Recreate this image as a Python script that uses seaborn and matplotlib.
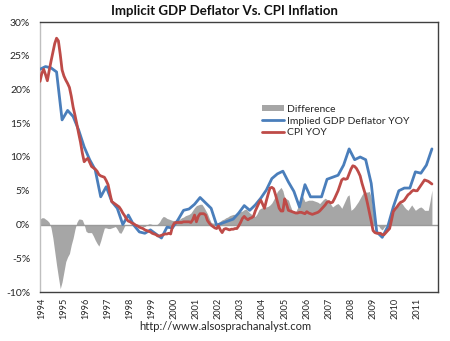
import numpy as np
import pandas as pd
import matplotlib
matplotlib.use("Agg")
import matplotlib.pyplot as plt
import seaborn as sns
from matplotlib.patches import Patch
from matplotlib.lines import Line2D

# ---------------- data ----------------
years = [str(y) for y in range(1994, 2012)]
y_ticks = [-10, -5, 0, 5, 10, 15, 20, 25, 30]

# quarterly, 1994Q1 .. 2011Q4
gdp_deflator_yoy = [
    23.0, 23.4, 23.2, 22.6, 15.5, 16.9, 16.0, 14.0, 11.5, 9.6,
    8.1, 4.1, 5.6, 3.4, 2.4, 0.0, 1.4, -0.1, -1.1, -1.3,
    -0.8, -1.4, -2.0, -0.4, -0.5, 0.7, 2.1, 2.3, 3.0, 4.0,
    3.2, 2.4, -0.1, 0.2, 0.5, 0.8, 1.7, 2.8, 2.1, 2.9,
    3.9, 5.1, 6.8, 7.5, 7.9, 6.3, 4.9, 2.6, 5.9, 4.1,
    4.1, 4.1, 6.7, 7.0, 7.3, 8.8, 11.2, 9.6, 10.0, 9.6,
    6.1, -1.1, -1.9, -0.3, 2.6, 5.0, 5.4, 5.4, 7.8, 7.6,
    8.8, 11.2,
]

# monthly, Jan 1994 .. 2011
cpi_yoy = [
    21.2, 22.4, 23.0, 22.2, 21.3, 22.8, 24.2, 25.5, 26.8, 27.6,
    27.2, 25.2, 22.9, 22.0, 21.4, 20.9, 20.3, 19.0, 17.4, 16.2,
    14.9, 13.5, 12.2, 10.6, 9.3, 9.6, 9.8, 9.2, 8.6, 8.4,
    8.2, 7.9, 7.4, 7.2, 7.1, 7.0, 6.5, 5.9, 4.6, 3.4,
    3.2, 3.0, 2.8, 2.6, 2.2, 1.7, 1.3, 0.8, 0.5, 0.4,
    0.2, 0.1, -0.1, -0.2, -0.4, -0.5, -0.6, -0.8, -0.9, -1.0,
    -1.1, -1.3, -1.4, -1.5, -1.7, -1.7, -1.6, -1.5, -1.4, -1.4,
    -1.3, -1.4, -0.3, 0.2, 0.3, 0.3, 0.3, 0.3, 0.4, 0.4,
    0.4, 0.4, 0.3, 0.7, 1.4, 0.4, 1.2, 1.6, 1.6, 1.6,
    1.4, 0.6, 0.2, -0.1, -0.3, -0.5, -0.6, -0.2, -0.8, -1.2,
    -0.7, -0.6, -0.7, -0.8, -0.7, -0.7, -0.6, -0.6, -0.2, 0.3,
    0.9, 1.2, 0.9, 0.7, 0.9, 1.0, 1.2, 2.0, 2.6, 3.2,
    3.6, 3.0, 2.4, 3.5, 4.5, 5.4, 5.5, 5.3, 4.4, 3.4,
    2.4, 2.0, 2.0, 3.8, 3.0, 2.1, 2.0, 1.9, 1.8, 1.7,
    1.7, 1.8, 1.8, 1.7, 1.6, 1.9, 1.7, 1.6, 1.5, 1.6,
    1.7, 1.8, 2.0, 2.3, 2.6, 2.9, 3.3, 3.4, 3.2, 3.3,
    3.8, 4.4, 5.0, 5.8, 6.6, 6.8, 6.7, 6.8, 7.5, 8.2,
    8.7, 8.6, 8.3, 7.8, 7.2, 6.1, 5.2, 4.3, 3.1, 1.8,
    0.5, -0.9, -1.2, -1.3, -1.3, -1.3, -1.5, -1.5, -1.2, -0.9,
    -0.6, 0.6, 1.9, 2.3, 2.6, 3.0, 3.3, 3.4, 3.6, 4.0,
    4.4, 4.6, 4.9, 5.1, 5.0, 5.0, 5.4, 5.8, 6.2, 6.6,
    6.5, 6.4, 6.2, 6.0,
]

difference = [
    0.8, 1.0, 1.0, 0.8, 0.6, 0.3, -0.5, -2.0, -4.0, -6.0,
    -7.8, -9.5, -8.5, -7.0, -5.5, -4.8, -4.3, -3.0, -2.0, -0.7,
    0.3, 0.8, 0.8, 0.7, 0.0, -1.0, -1.2, -1.2, -1.2, -1.7,
    -2.3, -2.8, -3.2, -2.4, -1.4, -0.5, -0.5, -0.6, -0.6, -0.5,
    -0.4, -0.3, -0.7, -1.2, -1.3, -0.8, -0.2, 0.0, 0.0, -0.1,
    -0.1, 0.0, -0.1, -0.2, -0.2, -0.2, -0.3, -0.3, -0.1, 0.1,
    0.1, 0.0, -0.1, -0.1, 0.1, 0.4, 0.9, 1.2, 1.1, 0.9,
    0.8, 0.7, 0.6, 0.6, 0.6, 0.7, 0.8, 1.0, 1.1, 1.3,
    1.4, 1.5, 1.7, 2.1, 2.5, 2.8, 2.9, 3.0, 3.0, 2.6,
    2.1, 1.6, 0.9, 0.3, 0.2, 0.2, 0.2, 0.3, 0.5, 0.7,
    0.8, 1.0, 1.1, 1.3, 1.4, 1.5, 1.5, 1.6, 1.8, 1.9,
    2.0, 2.2, 2.3, 2.0, 1.7, 1.5, 1.3, 1.2, 1.6, 2.2,
    2.4, 2.5, 2.6, 2.6, 2.7, 2.9, 3.2, 3.7, 4.3, 4.9,
    5.2, 5.5, 5.0, 3.9, 3.8, 3.6, 2.8, 2.1, 2.0, 1.9,
    2.5, 3.5, 4.6, 4.0, 3.4, 3.5, 3.6, 3.6, 3.6, 3.5,
    3.4, 3.3, 3.1, 3.4, 3.7, 3.9, 3.7, 3.5, 3.0, 2.6,
    2.8, 3.0, 3.1, 2.8, 2.4, 3.0, 3.6, 4.2, 4.4, 2.1,
    2.3, 2.6, 3.0, 3.4, 3.9, 4.4, 4.8, 4.8, 4.8, 4.9,
    4.0, 2.0, 0.1, -0.1, -0.2, -0.6, -0.8, -0.4, -0.1, 0.3,
    0.9, 1.5, 2.1, 2.6, 2.9, 3.1, 3.3, 3.0, 2.6, 2.3,
    2.1, 2.5, 2.9, 2.5, 2.1, 2.3, 2.5, 2.6, 2.4, 2.1,
    2.1, 2.1, 3.5, 5.1,
]

# ---------------- style ----------------
sns.set_style("white")
plt.rcParams['font.family'] = ['Lato', 'DejaVu Sans']

BLUE = '#4A7EBB'
RED = '#BE4B48'
GRAY = '#A6A6A6'
TXT = '#262626'

W, H = 450, 341
fig = plt.figure(figsize=(W / 100, H / 100), dpi=100)
ax = fig.add_axes([40 / W, 1 - 292 / H, 398 / W, 270 / H])

df_q = pd.DataFrame({'x': np.arange(len(gdp_deflator_yoy)), 'gdp': gdp_deflator_yoy})
df_m = pd.DataFrame({'x': np.arange(len(cpi_yoy)) / 3.0, 'cpi': cpi_yoy, 'diff': difference})

ax.fill_between(df_m['x'], 0, df_m['diff'], color=GRAY, lw=0, zorder=1)
ax.axhline(0, color='#9A9A9A', lw=1.0, zorder=2)
sns.lineplot(data=df_q, x='x', y='gdp', color=BLUE, lw=2.0, ax=ax, zorder=3)
sns.lineplot(data=df_m, x='x', y='cpi', color=RED, lw=2.0, ax=ax, zorder=4)

ax.set_xlim(0, 72.1)
ax.set_ylim(-10, 30)
ax.set_xlabel('')
ax.set_ylabel('')

ax.set_yticks(y_ticks)
ax.set_yticklabels([f'{v}%' for v in y_ticks], fontsize=7.5, color=TXT)
ax.set_xticks(np.arange(len(years)) * 4 + 0.3)
ax.set_xticklabels(years, rotation=90, fontsize=6.6, color=TXT)
ax.tick_params(axis='y', length=0, pad=7)
ax.tick_params(axis='x', length=0, pad=4)

for side in ['top', 'right', 'bottom']:
    ax.spines[side].set_color('#404040')
    ax.spines[side].set_linewidth(1.0)
ax.spines['left'].set_color('#BFBFBF')
ax.spines['left'].set_linewidth(1.0)

handles = [
    Patch(facecolor=GRAY, edgecolor='none'),
    Line2D([0], [0], color=BLUE, lw=2.0),
    Line2D([0], [0], color=RED, lw=2.0),
]
labels = ['Difference', 'Implied GDP Deflator YOY', 'CPI YOY']
leg = fig.legend(handles, labels, loc='upper left',
                 bbox_to_anchor=(262 / W, 1 - 105 / H),
                 frameon=False, fontsize=7.5, handlelength=2.1,
                 handleheight=0.5, handletextpad=0.3, labelspacing=0.25,
                 borderpad=0, borderaxespad=0)
for t in leg.get_texts():
    t.set_color(TXT)

fig.text(224.5 / W, 1 - 11 / H, 'Implicit GDP Deflator Vs. CPI Inflation',
         ha='center', va='center', fontsize=9.5, fontweight='bold', color='#111111')
fig.text(225 / W, 1 - 327 / H, 'http://www.alsosprachanalyst.com',
         ha='center', va='center', fontsize=8, color=TXT)

fig.savefig('out.png', dpi=100)
